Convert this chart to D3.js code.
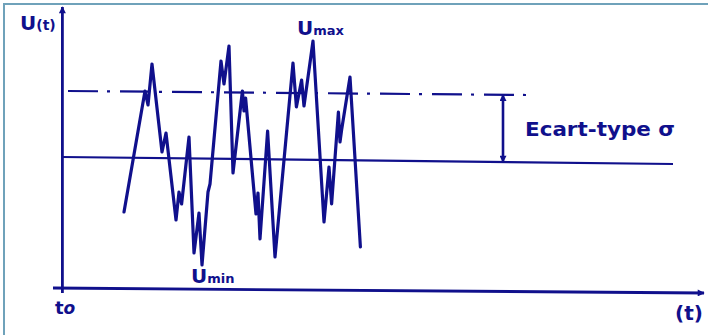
<!DOCTYPE html>
<html>
<head>
<meta charset="utf-8">
<script src="https://cdn.jsdelivr.net/npm/d3@7"></script>
<style>
  html, body { margin: 0; padding: 0; background: #fff; }
  svg { display: block; }
</style>
</head>
<body>
<svg id="chart" width="708" height="335"></svg>
<script>
// signal U(t) (arbitrary units)
const signalT = [15.5, 20.75, 21.5, 22.5, 25, 26, 28.5, 29.25, 29.9, 31.75,
  33, 34.25, 35, 36.5, 37, 39.75, 40.5, 41.75, 42.75, 45.1,
  45.5, 45.9, 48.5, 49, 49.5, 51.4, 53.25, 57.75, 58.6, 59.9,
  60.5, 62.75, 65.5, 66.75, 67.4, 69.1, 69.5, 69.9, 72, 74.6];
const signalU = [39, 99.5, 92.5, 113, 69, 78.5, 35, 49, 43, 76.5,
  18.5, 38.5, 12.5, 49, 53, 114.5, 103, 122, 58.5, 99.5,
  89.5, 96, 38, 48.5, 25.5, 79.5, 16.5, 113.5, 91.5, 105,
  92, 124.5, 34, 61.5, 43, 89, 74, 80, 106.5, 21.5];

// mean line and sigma line (hand drawn, slightly sloped)
const meanT = [0, 152.75];
const meanU = [66.5, 63];
const sigmaT = [1.5, 116.25];
const sigmaU = [99.5, 97.5];
const arrowT = 110.25;

const labels = {
  yAxis: ["U", "(t)"],
  umax: ["U", "max"],
  umin: ["U", "min"],
  t0: ["t", "o"],
  xAxis: "(t)",
  sigma: "Ecart-type  σ"
};

const ink = "#10108c";
const svg = d3.select("#chart");

const x = d3.scaleLinear().domain([0, 160]).range([62, 702]);
const y = d3.scaleLinear().domain([0, 140]).range([290, 10]);

// frame (cut at right and bottom)
svg.append("rect")
  .attr("x", 4).attr("y", 4)
  .attr("width", 740).attr("height", 360)
  .attr("fill", "none")
  .attr("stroke", "#6fa2ba")
  .attr("stroke-width", 2);

const defs = svg.append("defs");
defs.append("marker")
  .attr("id", "head")
  .attr("viewBox", "0 0 10 10")
  .attr("refX", 9).attr("refY", 5)
  .attr("markerWidth", 8).attr("markerHeight", 7)
  .attr("markerUnits", "userSpaceOnUse")
  .attr("orient", "auto-start-reverse")
  .append("path")
  .attr("d", "M0,0 L10,5 L0,10 Z")
  .attr("fill", ink);

// axes
svg.append("line")
  .attr("x1", x(0.1)).attr("y1", y(-1.5))
  .attr("x2", x(0.1)).attr("y2", y(141.5))
  .attr("stroke", ink).attr("stroke-width", 2.8)
  .attr("marker-end", "url(#head)");

svg.append("line")
  .attr("x1", x(-2.25)).attr("y1", y(1))
  .attr("x2", x(160.5)).attr("y2", y(-1.5))
  .attr("stroke", ink).attr("stroke-width", 2.8)
  .attr("marker-end", "url(#head)");

// mean line
svg.append("line")
  .attr("x1", x(meanT[0])).attr("y1", y(meanU[0]))
  .attr("x2", x(meanT[1])).attr("y2", y(meanU[1]))
  .attr("stroke", ink).attr("stroke-width", 2.2);

// sigma line, dash-dot
svg.append("line")
  .attr("x1", x(sigmaT[0])).attr("y1", y(sigmaU[0]))
  .attr("x2", x(sigmaT[1])).attr("y2", y(sigmaU[1]))
  .attr("stroke", ink).attr("stroke-width", 2.2)
  .attr("stroke-dasharray", "30 9 3 10");

// signal
const signal = signalT.map((t, i) => ({ t: t, u: signalU[i] }));
svg.append("path")
  .datum(signal)
  .attr("d", d3.line().x(d => x(d.t)).y(d => y(d.u)))
  .attr("fill", "none")
  .attr("stroke", ink)
  .attr("stroke-width", 3.2)
  .attr("stroke-linejoin", "round")
  .attr("stroke-linecap", "round");

// sigma arrow
const uAt = (tt, ts, us) => us[0] + (us[1] - us[0]) * (tt - ts[0]) / (ts[1] - ts[0]);
svg.append("line")
  .attr("x1", x(arrowT)).attr("y1", y(uAt(arrowT, sigmaT, sigmaU)))
  .attr("x2", x(arrowT)).attr("y2", y(uAt(arrowT, meanT, meanU)))
  .attr("stroke", ink).attr("stroke-width", 2.6)
  .attr("marker-start", "url(#head)")
  .attr("marker-end", "url(#head)");

// texts
const font = "'DejaVu Sans', sans-serif";
function label(px, py, parts, sizes, italic) {
  const t = svg.append("text")
    .attr("x", px).attr("y", py)
    .attr("fill", ink)
    .attr("font-family", font)
    .attr("font-weight", "bold");
  parts.forEach((p, i) => {
    t.append("tspan")
      .attr("font-size", sizes[i])
      .attr("font-style", italic && italic[i] ? "italic" : "normal")
      .text(p);
  });
  return t;
}

label(20, 30, labels.yAxis, [20, 14]);
label(297, 35, labels.umax, [20, 13]);
label(191, 283, labels.umin, [20, 13]);
label(55, 314, labels.t0, [18, 17], [false, true]);
label(675, 320, [labels.xAxis], [20]);
label(525, 136, [labels.sigma], [20])
  .attr("textLength", 150)
  .attr("lengthAdjust", "spacingAndGlyphs");
</script>
</body>
</html>
